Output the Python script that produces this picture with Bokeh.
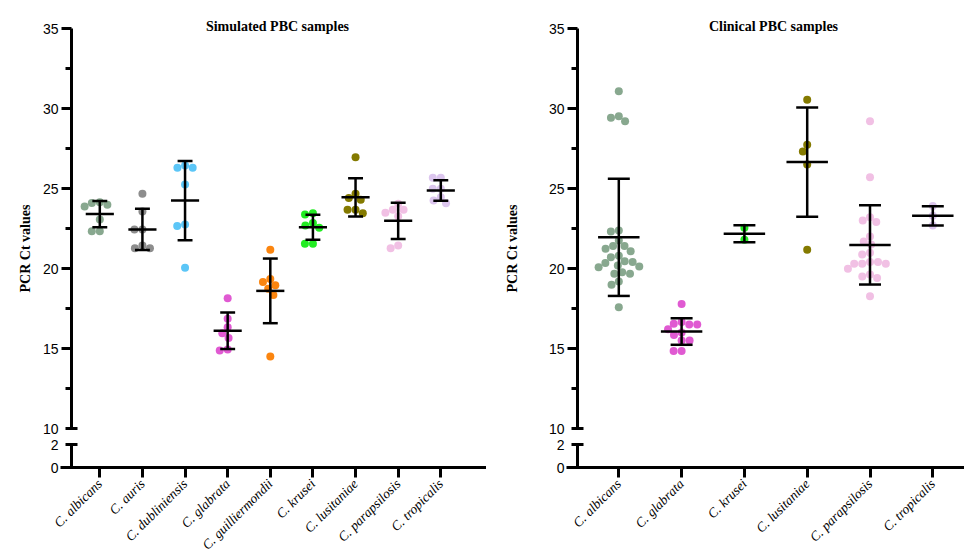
import math
import numpy as np
from bokeh.plotting import figure
from bokeh.models import Range1d, LinearAxis, FixedTicker, ColumnDataSource, Label
from bokeh.layouts import row
from bokeh.embed import file_html
from bokeh.resources import INLINE

# ---------------- data ----------------
sim_species = ["C. albicans", "C. auris", "C. dubliniensis", "C. glabrata",
               "C. guilliermondii", "C. krusei", "C. lusitaniae",
               "C. parapsilosis", "C. tropicalis"]
sim_albicans = [24.14, 23.88, 24.10, 23.98, 23.06, 22.33, 22.33]
sim_auris = [24.67, 23.56, 22.44, 22.44, 21.27, 21.44, 21.27]
sim_dubliniensis = [26.29, 26.44, 26.29, 25.25, 22.75, 22.65, 20.04]
sim_glabrata = [18.14, 16.86, 16.33, 15.96, 15.65, 14.88, 14.94]
sim_guilliermondii = [21.17, 18.96, 19.15, 19.35, 18.73, 18.35, 14.50]
sim_krusei = [23.46, 23.38, 22.69, 22.85, 22.54, 21.54, 21.54]
sim_lusitaniae = [26.96, 24.67, 24.29, 24.40, 23.46, 23.67, 23.67]
sim_parapsilosis = [24.04, 23.48, 23.67, 23.67, 23.27, 21.27, 21.44]
sim_tropicalis = [25.67, 25.67, 24.98, 24.98, 24.46, 24.08, 24.25]

clin_species = ["C. albicans", "C. glabrata", "C. krusei", "C. lusitaniae",
                "C. parapsilosis", "C. tropicalis"]
clin_albicans = [31.08, 29.52, 29.21, 29.42, 22.38, 22.31, 21.75, 21.40, 21.40,
                 21.23, 21.08, 20.79, 20.71, 20.45, 20.40, 20.35, 20.19, 20.12,
                 20.08, 19.77, 19.67, 19.67, 19.19, 18.98, 17.58]
clin_glabrata = [17.78, 16.65, 16.50, 16.50, 16.55, 16.20, 16.00, 15.85, 15.50,
                 15.50, 14.85, 14.85]
clin_krusei = [22.54, 21.79]
clin_lusitaniae = [30.54, 27.73, 27.31, 26.50, 21.17]
clin_parapsilosis = [29.21, 25.71, 22.90, 23.00, 23.21, 22.00, 21.50, 21.69, 20.98,
                     20.88, 20.29, 20.40, 20.29, 20.29, 20.40, 19.98, 19.50, 19.63,
                     19.40, 18.27]
clin_tropicalis = [23.90, 23.29, 22.69]

upper_ticks = [15, 20, 25, 30, 35]
upper_minor_ticks = [12.5, 17.5, 22.5, 27.5, 32.5]
break_ticks = [10]
lower_ticks = [0, 2]
y_label = "PCR Ct values"

species_colors = {
    "C. albicans": "#88a88f",
    "C. auris": "#8d8d8d",
    "C. dubliniensis": "#5cc6f7",
    "C. glabrata": "#e05ad2",
    "C. guilliermondii": "#fb850f",
    "C. krusei": "#22ec22",
    "C. lusitaniae": "#847a00",
    "C. parapsilosis": "#f1c0e4",
    "C. tropicalis": "#dcc6ee",
}

# ---------------- layout constants (page pixels) ----------------
FIG_H = 559
Y35_PX = 28.0        # where 35 sits
UPPER_PPU = 16.0     # px per Ct unit in upper segment
Y0_PX = 467.0        # where 0 sits (x axis)
LOW_PPU = 11.35      # px per unit in lower segment
Y_START = 35 - (FIG_H - Y35_PX) / UPPER_PPU
Y_END = 35 + Y35_PX / UPPER_PPU
X_AXIS_Y = 35 - (Y0_PX - Y35_PX) / UPPER_PPU
LOW_START = -(FIG_H - Y0_PX) / LOW_PPU
LOW_END = Y0_PX / LOW_PPU
DOT = 8


def y_of_px(py):
    return 35 - (py - Y35_PX) / UPPER_PPU


def swarm(vals, ypx, xpx, d):
    """simple beeswarm: returns x offsets in data units"""
    vals = np.asarray(vals, float)
    order = np.argsort(-vals, kind="stable")
    placed = []
    out = np.zeros(len(vals))
    for i in order:
        y = vals[i] * ypx
        iv = []
        for (px, py) in placed:
            dy = abs(py - y)
            if dy < d:
                h = math.sqrt(d * d - dy * dy)
                iv.append((px - h, px + h))
        cands = [0.0] + [a for a, b in iv] + [b for a, b in iv]
        cands.sort(key=lambda c: (round(abs(c), 6), c))
        for c in cands:
            if all(not (a + 1e-6 < c < b - 1e-6) for a, b in iv):
                out[i] = c
                break
        placed.append((out[i], y))
    return out / xpx


def style_axis(ax):
    ax.axis_line_width = 3
    ax.axis_line_color = "black"
    ax.major_tick_line_width = 3
    ax.minor_tick_line_width = 3
    ax.major_tick_line_color = "black"
    ax.minor_tick_line_color = "black"
    ax.major_label_text_font = "Liberation Sans"
    ax.major_label_text_font_size = "14px"
    ax.major_label_text_color = "black"


def make_panel(title, species, groups, fig_x0, fig_w, cat0_px, xppu, axis_px,
               title_px, ylab_px):
    def x_of_px(px):
        return (px - cat0_px) / xppu

    x_start, x_end = x_of_px(fig_x0), x_of_px(fig_x0 + fig_w)
    ax_x = x_of_px(axis_px)

    p = figure(width=fig_w, height=FIG_H,
               x_range=Range1d(x_start, x_end), y_range=Range1d(Y_START, Y_END),
               x_axis_type=None, y_axis_type=None,
               output_backend="svg", toolbar_location=None,
               min_border=0)
    p.outline_line_color = None
    p.background_fill_color = "white"
    p.border_fill_color = "white"
    p.extra_y_ranges = {"low": Range1d(LOW_START, LOW_END)}

    xs, ys, cs = [], [], []
    for i, (sp, vals) in enumerate(zip(species, groups)):
        off = swarm(vals, UPPER_PPU, xppu, 8.0)
        xs += list(i + off)
        ys += list(vals)
        cs += [species_colors[sp]] * len(vals)
    p.scatter(x="x", y="y", color="c", size=DOT, line_color=None,
              source=ColumnDataSource(dict(x=xs, y=ys, c=cs)))

    idx = np.arange(len(species), dtype=float)
    means = np.array([np.mean(g) for g in groups])
    sds = np.array([np.std(g, ddof=1) for g in groups])
    err = dict(line_color="black", line_width=2.5)
    p.segment(x0=idx, y0=means - sds, x1=idx, y1=means + sds, **err)
    for sgn in (-1, 1):
        p.segment(x0=idx - 0.175, y0=means + sgn * sds, x1=idx + 0.175,
                  y1=means + sgn * sds, **err)
    p.segment(x0=idx - 0.33, y0=means, x1=idx + 0.33, y1=means, **err)

    # upper y axis segment (10..35)
    yax = LinearAxis(ticker=FixedTicker(ticks=upper_ticks, minor_ticks=upper_minor_ticks),
                     bounds=(10, 35), fixed_location=ax_x)
    style_axis(yax)
    yax.major_tick_out = 10
    yax.major_tick_in = 0
    yax.minor_tick_out = 6
    yax.minor_tick_in = 0
    yax.major_label_standoff = 3
    p.add_layout(yax, "left")

    # break cap at 10
    bax = LinearAxis(ticker=FixedTicker(ticks=break_ticks, minor_ticks=[]),
                     bounds=(10, 35), fixed_location=ax_x)
    style_axis(bax)
    bax.axis_line_color = None
    bax.major_tick_out = 6
    bax.major_tick_in = 6
    bax.major_label_standoff = 7
    p.add_layout(bax, "left")

    # lower y axis segment (0..2)
    lax = LinearAxis(y_range_name="low", ticker=FixedTicker(ticks=lower_ticks, minor_ticks=[]),
                     bounds=(0, 2), fixed_location=ax_x)
    style_axis(lax)
    lax.major_tick_out = 6
    lax.major_tick_in = 6
    lax.major_label_standoff = 7
    p.add_layout(lax, "left")

    # x axis
    xax = LinearAxis(ticker=FixedTicker(ticks=list(range(len(species))), minor_ticks=[]),
                     fixed_location=X_AXIS_Y, bounds=(x_of_px(axis_px - 11), x_end),
                     major_label_overrides={i: s for i, s in enumerate(species)})
    style_axis(xax)
    xax.major_tick_out = 10
    xax.major_tick_in = 0
    xax.major_label_standoff = 4
    xax.major_label_orientation = math.pi / 4
    xax.major_label_text_font = "Liberation Serif"
    xax.major_label_text_font_style = "italic"
    xax.major_label_text_font_size = "13.5px"
    p.add_layout(xax, "below")

    p.add_layout(Label(x=x_of_px(title_px), y=y_of_px(25.5), text=title,
                       text_align="center", text_baseline="alphabetic",
                       text_font="Liberation Serif", text_font_style="bold",
                       text_font_size="14px", text_color="black"))
    p.add_layout(Label(x=x_of_px(ylab_px), y=y_of_px(248), text=y_label,
                       angle=math.pi / 2, text_align="center",
                       text_baseline="alphabetic",
                       text_font="Liberation Serif", text_font_style="bold",
                       text_font_size="14px", text_color="black"))
    return p


sim_groups = [sim_albicans, sim_auris, sim_dubliniensis, sim_glabrata,
              sim_guilliermondii, sim_krusei, sim_lusitaniae, sim_parapsilosis,
              sim_tropicalis]
clin_groups = [clin_albicans, clin_glabrata, clin_krusei, clin_lusitaniae,
               clin_parapsilosis, clin_tropicalis]

p1 = make_panel("Simulated PBC samples", sim_species, sim_groups,
                0, 486, 99.3, 42.625, 71.0, 277.0, 25.0)
p2 = make_panel("Clinical PBC samples", clin_species, clin_groups,
                486, 478, 618.3, 62.8, 577.0, 773.0, 512.0)

layout = row(p1, p2)
open("out.html", "w").write(file_html(layout, INLINE))
